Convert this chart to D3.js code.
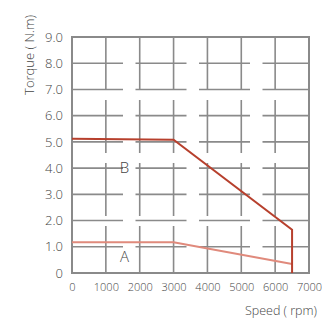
<!DOCTYPE html>
<html>
<head>
<meta charset="utf-8">
<script src="https://cdn.jsdelivr.net/npm/d3@7"></script>
<style>
  body { margin: 0; background: #fff; }
  text { font-family: "Open Sans", sans-serif; font-weight: 300; fill: #444; }
</style>
</head>
<body>
<div id="chart"></div>
<script>
// data
var speedTicks = [0, 1000, 2000, 3000, 4000, 5000, 6000, 7000];
var torqueTicks = [0, 1, 2, 3, 4, 5, 6, 7, 8, 9];
var curveBSpeed = [0, 3000, 6500, 6500];
var curveBTorque = [5.12, 5.08, 1.65, 0];
var curveASpeed = [0, 3000, 6500];
var curveATorque = [1.17, 1.17, 0.34];

var margin = { top: 37, right: 13, bottom: 50, left: 72 },
  width = 322 - margin.left - margin.right,
  height = 323 - margin.top - margin.bottom;

var svg = d3.select("#chart")
  .append("svg")
  .attr("width", 322)
  .attr("height", 323)
  .append("g")
  .attr("transform", "translate(" + margin.left + "," + margin.top + ")");

var x = d3.scaleLinear().domain([0, 7000]).range([0, width]);
var y = d3.scaleLinear().domain([0, 9]).range([height, 0]);

// grid lines (dashed)
svg.selectAll(".hgrid")
  .data(torqueTicks.slice(1, -1))
  .enter()
  .append("line")
  .attr("x1", 0).attr("x2", width)
  .attr("y1", function (d) { return y(d); })
  .attr("y2", function (d) { return y(d); })
  .attr("stroke", "#8a8a8a")
  .attr("stroke-width", 1.6)
  .attr("stroke-dasharray", "51,12.5");

svg.selectAll(".vgrid")
  .data(speedTicks.slice(1, -1))
  .enter()
  .append("line")
  .attr("y1", 0).attr("y2", height)
  .attr("x1", function (d) { return x(d); })
  .attr("x2", function (d) { return x(d); })
  .attr("stroke", "#8a8a8a")
  .attr("stroke-width", 1.6)
  .attr("stroke-dasharray", "53,10");

// frame
svg.append("rect")
  .attr("x", 0).attr("y", 0)
  .attr("width", width).attr("height", height)
  .attr("fill", "none")
  .attr("stroke", "#8a8a8a")
  .attr("stroke-width", 2);

// axes
var xAxis = svg.append("g")
  .attr("transform", "translate(0," + height + ")")
  .call(d3.axisBottom(x).tickValues(speedTicks).tickSize(0).tickPadding(10)
    .tickFormat(function (d) { return d; }));
xAxis.select(".domain").remove();
xAxis.selectAll("text").style("font-size", "11px").attr("font-family", null);

var yAxis = svg.append("g")
  .call(d3.axisLeft(y).tickValues(torqueTicks).tickSize(0).tickPadding(9)
    .tickFormat(function (d) { return d === 0 ? "0" : d3.format(".1f")(d); }));
yAxis.select(".domain").remove();
yAxis.selectAll("text").style("font-size", "13px").attr("font-family", null);

// curves
var line = d3.line()
  .x(function (d) { return x(d[0]); })
  .y(function (d) { return y(d[1]); });

svg.append("path")
  .datum(d3.zip(curveASpeed, curveATorque))
  .attr("d", line)
  .attr("fill", "none")
  .attr("stroke", "#e08a7c")
  .attr("stroke-width", 2);

svg.append("path")
  .datum(d3.zip(curveBSpeed, curveBTorque))
  .attr("d", line)
  .attr("fill", "none")
  .attr("stroke", "#b7402d")
  .attr("stroke-width", 2);

// curve labels
svg.append("text")
  .attr("x", x(1550)).attr("y", y(3.8))
  .attr("text-anchor", "middle")
  .style("font-size", "15px")
  .text("B");

svg.append("text")
  .attr("x", x(1550)).attr("y", y(0.42))
  .attr("text-anchor", "middle")
  .style("font-size", "15px")
  .text("A");

// axis titles
svg.append("text")
  .attr("transform", "translate(-38," + (55 - margin.top) + ")rotate(-90)")
  .attr("text-anchor", "middle")
  .style("font-size", "13px")
  .text("Torque ( N.m)");

svg.append("text")
  .attr("x", width + 8).attr("y", height + 42)
  .attr("text-anchor", "end")
  .style("font-size", "12.5px")
  .text("Speed ( rpm)");
</script>
</body>
</html>
